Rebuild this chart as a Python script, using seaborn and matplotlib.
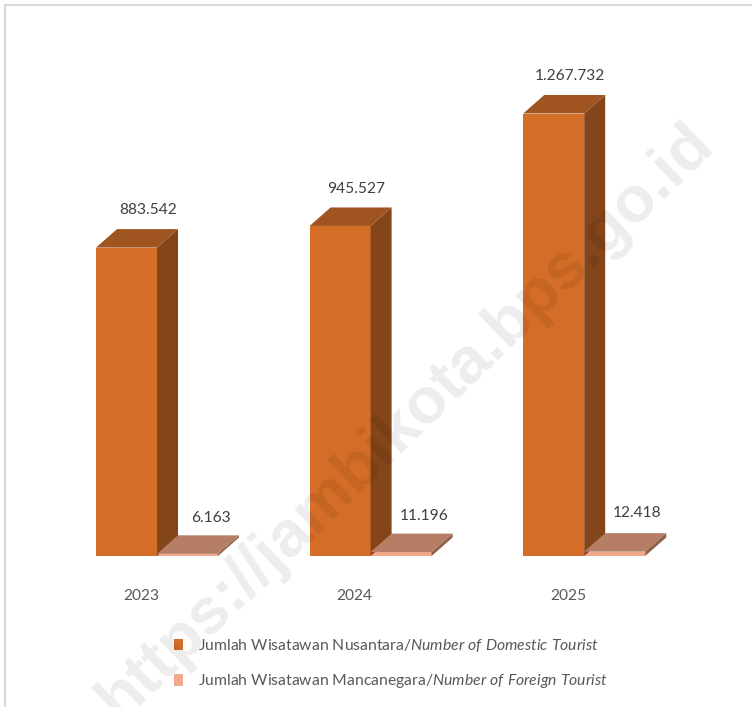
import matplotlib
matplotlib.use("Agg")
import matplotlib.pyplot as plt
from matplotlib.patches import Polygon, Rectangle
import pandas as pd
import seaborn as sns

years = ["2023", "2024", "2025"]
domestic = [883542, 945527, 1267732]
foreign = [6163, 11196, 12418]
domestic_labels = ["883.542", "945.527", "1.267.732"]
foreign_labels = ["6.163", "11.196", "12.418"]
name_dom = r"Jumlah Wisatawan Nusantara/$\mathit{Number\ of\ Domestic\ Tourist}$"
name_for = r"Jumlah Wisatawan Mancanegara/$\mathit{Number\ of\ Foreign\ Tourist}$"

W, H = 752, 707
sns.set_theme(style="white")
plt.rcParams["font.family"] = ["Lato", "DejaVu Sans"]
plt.rcParams["mathtext.fontset"] = "custom"
plt.rcParams["mathtext.it"] = "Lato:italic"
plt.rcParams["mathtext.rm"] = "Lato"

df = pd.DataFrame({
    "year": years * 2,
    "value": domestic + foreign,
    "series": [name_dom] * 3 + [name_for] * 3,
})

fig = plt.figure(figsize=(W / 100, H / 100), dpi=100, facecolor="white")
ax = fig.add_axes([0, 0, 1, 1])
FRONT = {name_dom: "#D36D27", name_for: "#F2A88B"}
sns.barplot(data=df, x="year", y="value", hue="series", palette=FRONT, hue_order=[name_dom, name_for],
            width=0.571, gap=0, saturation=1, ax=ax, zorder=2, linewidth=0)

px_x = 213.6
px_y = 1267732 / 442.5
ax.set_xlim(-157 / px_x, (W - 157) / px_x)
ax.set_ylim(-151 * px_y, (H - 151) * px_y)
dx, dy = 21 / px_x, 18.5 * px_y

TOP = ["#A0541F", "#B57E65"]
SIDE = ["#834519", "#8F5F4A"]
LABEL_C = "#404040"
all_labels = [domestic_labels, foreign_labels]
label_dx = [[22, 16, 16], [23, 23, 22]]
label_dy = [[38, 37, 38], [36, 36, 39]]

for s, cont in enumerate(ax.containers[:2]):
    for i, bar in enumerate(cont):
        x0, w, h = bar.get_x(), bar.get_width(), bar.get_height()
        x1 = x0 + w
        ax.add_patch(Polygon([(x0, h), (x1, h), (x1 + dx, h + dy), (x0 + dx, h + dy)],
                             fc=TOP[s], ec="none", zorder=3))
        ax.add_patch(Polygon([(x1, 0), (x1 + dx, dy), (x1 + dx, h + dy), (x1, h)],
                             fc=SIDE[s], ec="none", zorder=3 if s else 2.5))
        ax.annotate(all_labels[s][i], xy=(x0 + w / 2, h), xytext=(label_dx[s][i] * 0.72, label_dy[s][i] * 0.72),
                    textcoords="offset points", ha="center", va="center",
                    fontsize=11.2, color=LABEL_C, zorder=6)

ax.set_xticks([i - 16 / px_x for i in range(3)], years)
ax.set_yticks([])
ax.set_xlabel("")
ax.set_ylabel("")
sns.despine(ax=ax, left=True, right=True, top=True, bottom=True)
ax.spines["bottom"].set_position(("data", 0))
ax.tick_params(axis="x", length=0, pad=24, labelsize=11.2, labelcolor="#595959")

sns.move_legend(ax, loc="upper left", bbox_to_anchor=(174 / W, 1 - 637 / H), title=None, frameon=False,
                fontsize=11.3, handlelength=0.58, handleheight=0.78, handletextpad=0.95,
                labelspacing=1.17, labelcolor="#595959", borderpad=0, borderaxespad=0)

# frame of the page
fig.add_artist(Rectangle((5 / W, -0.02), 1.02, 1 - 5 / H + 0.02, transform=fig.transFigure,
                         fc="none", ec="#D9D9D9", lw=1.5))
# watermark
fig.text(406 / W, 1 - 422 / H, "https://jambikota.bps.go.id", rotation=44, rotation_mode="anchor",
         ha="center", va="center", fontsize=47, fontweight="bold", family="Liberation Sans",
         color="black", alpha=0.075, zorder=10)

fig.savefig("out.png", dpi=100)
